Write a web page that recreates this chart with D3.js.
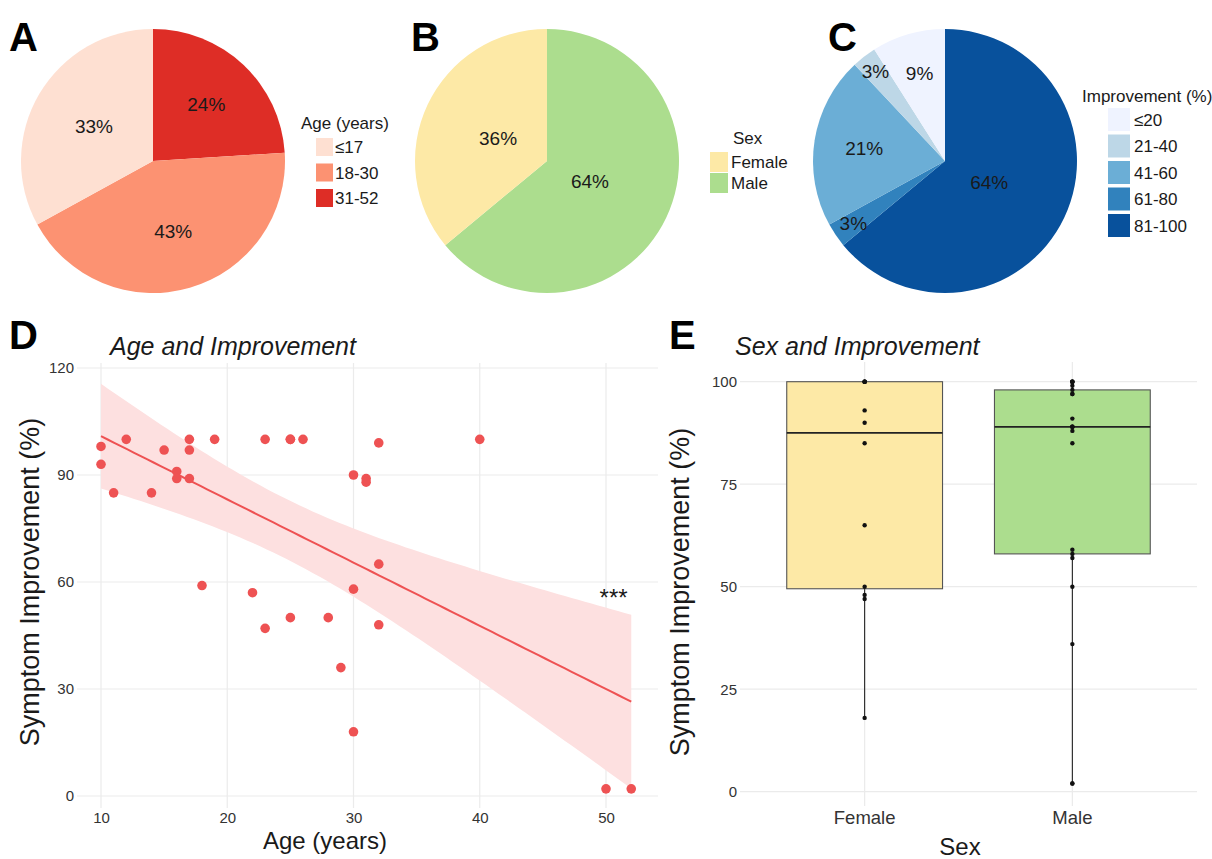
<!DOCTYPE html>
<html>
<head>
<meta charset="utf-8">
<script src="https://cdn.jsdelivr.net/npm/d3@7"></script>
<style>
  body { margin: 0; background: #fff; }
  svg { font-family: "Liberation Sans", Arial, sans-serif; }
</style>
</head>
<body>
<div class="canvas"></div>
<script>
// ---- data ----
const ageGroups = ['≤17', '18-30', '31-52'];
const agePct = [33, 43, 24];
const sexGroups = ['Female', 'Male'];
const sexPct = [36, 64];
const impGroups = ['≤20', '21-40', '41-60', '61-80', '81-100'];
const impPct = [9, 3, 21, 3, 64];

const ages = [10, 10, 11, 12, 14, 15, 16, 16, 17, 17, 17, 18, 19, 22, 23, 23, 25, 25, 25, 26, 28, 29, 30, 30, 30, 31, 31, 32, 32, 32, 40, 50, 52];
const improvement = [98, 93, 85, 100, 85, 97, 91, 89, 100, 97, 89, 59, 100, 57, 100, 47, 100, 50, 100, 100, 50, 36, 90, 58, 18, 89, 88, 99, 65, 48, 100, 2, 2];

const femaleImp = [18, 47, 48, 50, 65, 85, 90, 93, 100, 100, 100, 100];
const maleImp = [2, 2, 36, 50, 57, 58, 59, 85, 88, 89, 89, 89, 91, 97, 97, 98, 99, 100, 100, 100, 100];

const dTicks = [0, 30, 60, 90, 120];
const dXTicks = [10, 20, 30, 40, 50];
const eTicks = [0, 25, 50, 75, 100];

// colours / label radius (fraction of pie radius)
const ageColors = ['#fee0d2', '#fc9272', '#de2d26'];
const sexColors = ['#fde9a6', '#acdd8e'];
const impColors = ['#eff3ff', '#bdd7e7', '#6baed6', '#3182bd', '#08519c'];
const ageLabelR = [0.52, 0.55, 0.59];
const sexLabelR = [0.41, 0.36];
const impLabelR = [0.69, 0.86, 0.62, 0.84, 0.37];

const red = '#ee5253';

const svg = d3.select('.canvas').append('svg')
    .attr('width', 1212)
    .attr('height', 859);

// panel letters
const letters = [['A', 9, 51], ['B', 411, 51], ['C', 828, 51], ['D', 9, 349], ['E', 669, 349]];
svg.selectAll('text.letter')
    .data(letters)
    .enter().append('text')
    .attr('class', 'letter')
    .attr('x', d => d[1])
    .attr('y', d => d[2])
    .attr('font-size', 40)
    .attr('font-weight', 'bold')
    .text(d => d[0]);

// ---- pies ----
function drawPie(cx, cy, r, groups, pct, colors, labelR) {
    // clockwise from 12 o'clock, in reverse legend order (like ggplot)
    const items = groups.map((g, i) => ({ g, v: pct[i], c: colors[i], lr: labelR[i] })).reverse();
    const pie = d3.pie().sort(null).value(d => d.v);
    const arc = d3.arc().innerRadius(0).outerRadius(r);
    const g = svg.append('g').attr('transform', `translate(${cx},${cy})`);
    const arcs = pie(items);
    g.selectAll('path')
        .data(arcs)
        .enter().append('path')
        .attr('d', arc)
        .attr('fill', d => d.data.c);
    g.selectAll('text')
        .data(arcs)
        .enter().append('text')
        .attr('x', d => Math.sin((d.startAngle + d.endAngle) / 2) * r * d.data.lr)
        .attr('y', d => -Math.cos((d.startAngle + d.endAngle) / 2) * r * d.data.lr)
        .attr('text-anchor', 'middle')
        .attr('dy', '0.36em')
        .attr('font-size', 19)
        .attr('fill', '#1a1a1a')
        .text(d => d.data.v + '%');
}

function drawLegend(x, titleY, title, groups, colors, keyX, keyW, keyH, top, step, labelX) {
    const g = svg.append('g');
    g.append('text')
        .attr('x', x)
        .attr('y', titleY)
        .attr('font-size', 17)
        .attr('fill', '#1a1a1a')
        .text(title);
    groups.forEach((gr, i) => {
        g.append('rect')
            .attr('x', keyX)
            .attr('y', top + i * step)
            .attr('width', keyW)
            .attr('height', keyH)
            .attr('fill', colors[i]);
        g.append('text')
            .attr('x', labelX)
            .attr('y', top + i * step + keyH / 2)
            .attr('dy', '0.36em')
            .attr('font-size', 17)
            .attr('fill', '#1a1a1a')
            .text(gr);
    });
}

drawPie(153, 161, 132, ageGroups, agePct, ageColors, ageLabelR);
drawPie(547, 161, 132, sexGroups, sexPct, sexColors, sexLabelR);
drawPie(945, 161, 132, impGroups, impPct, impColors, impLabelR);

drawLegend(301, 129, 'Age (years)', ageGroups, ageColors, 316, 17, 18, 138, 25.5, 335);
drawLegend(733, 144, 'Sex', sexGroups, sexColors, 710, 18, 20, 152, 21, 731);
drawLegend(1082, 102, 'Improvement (%)', impGroups, impColors, 1108, 22, 23, 108, 26.5, 1134);

// ---- D: scatter with regression ----
const xD = d3.scaleLinear().domain([10, 50]).range([101, 606]);
const yD = d3.scaleLinear().domain([0, 120]).range([796, 368]);
const dLeft = 77, dRight = 658, dTop = 363, dBottom = 808;

const gD = svg.append('g');
gD.selectAll('line.hg')
    .data(dTicks)
    .enter().append('line')
    .attr('x1', dLeft).attr('x2', dRight)
    .attr('y1', d => yD(d)).attr('y2', d => yD(d))
    .attr('stroke', '#ebebeb').attr('stroke-width', 1.2);
gD.selectAll('line.vg')
    .data(dXTicks)
    .enter().append('line')
    .attr('x1', d => xD(d)).attr('x2', d => xD(d))
    .attr('y1', dTop).attr('y2', dBottom)
    .attr('stroke', '#ebebeb').attr('stroke-width', 1.2);

const yAxisD = gD.append('g')
    .attr('transform', `translate(${dLeft},0)`)
    .call(d3.axisLeft(yD).tickValues(dTicks).tickSize(0).tickPadding(3));
const xAxisD = gD.append('g')
    .attr('transform', `translate(0,${dBottom})`)
    .call(d3.axisBottom(xD).tickValues(dXTicks).tickSize(0).tickPadding(4));
[yAxisD, xAxisD].forEach(a => {
    a.select('.domain').remove();
    a.selectAll('text').attr('font-size', 15).attr('fill', '#333')
        .attr('font-family', '"Liberation Sans", Arial, sans-serif');
});

// linear fit and 95% confidence band
const n = ages.length;
const mx = d3.mean(ages), my = d3.mean(improvement);
let sxx = 0, sxy = 0;
ages.forEach((a, i) => { sxx += (a - mx) ** 2; sxy += (a - mx) * (improvement[i] - my); });
const slope = sxy / sxx;
const intercept = my - slope * mx;
let sse = 0;
ages.forEach((a, i) => { sse += (improvement[i] - (intercept + slope * a)) ** 2; });
const se = Math.sqrt(sse / (n - 2));
const tq = 2.0395; // t(0.975, df = 31)
const [xMin, xMax] = d3.extent(ages);
const fitX = d3.range(0, 81).map(i => xMin + (xMax - xMin) * i / 80);
const band = fitX.map(x => {
    const fit = intercept + slope * x;
    const h = tq * se * Math.sqrt(1 / n + (x - mx) ** 2 / sxx);
    return { x, fit, lo: fit - h, hi: fit + h };
});

gD.append('path')
    .datum(band)
    .attr('d', d3.area().x(d => xD(d.x)).y0(d => yD(d.lo)).y1(d => yD(d.hi)))
    .attr('fill', '#fde0e0');
gD.append('path')
    .datum(band)
    .attr('d', d3.line().x(d => xD(d.x)).y(d => yD(d.fit)))
    .attr('fill', 'none')
    .attr('stroke', red)
    .attr('stroke-width', 2);

gD.selectAll('circle')
    .data(ages.map((a, i) => [a, improvement[i]]))
    .enter().append('circle')
    .attr('cx', d => xD(d[0]))
    .attr('cy', d => yD(d[1]))
    .attr('r', 4.8)
    .attr('fill', red);

gD.append('text')
    .attr('x', xD(50.6))
    .attr('y', yD(53.3))
    .attr('text-anchor', 'middle')
    .attr('font-size', 24)
    .attr('fill', '#1a1a1a')
    .text('***');

gD.append('text')
    .attr('x', 110)
    .attr('y', 355)
    .attr('font-size', 25)
    .attr('font-style', 'italic')
    .attr('fill', '#1a1a1a')
    .text('Age and Improvement');
gD.append('text')
    .attr('transform', 'translate(39,582) rotate(-90)')
    .attr('text-anchor', 'middle')
    .attr('font-size', 27)
    .attr('fill', '#1a1a1a')
    .text('Symptom Improvement (%)');
gD.append('text')
    .attr('x', 325)
    .attr('y', 849)
    .attr('text-anchor', 'middle')
    .attr('font-size', 24)
    .attr('fill', '#1a1a1a')
    .text('Age (years)');

// ---- E: boxplots ----
const xE = d3.scaleBand().domain(sexGroups).range([740, 1197]).paddingInner(0.25).paddingOuter(0.225);
const yE = d3.scaleLinear().domain([0, 100]).range([791.7, 381.7]);
const eTop = 362, eBottom = 806;

const gE = svg.append('g');
gE.selectAll('line.hg')
    .data(eTicks)
    .enter().append('line')
    .attr('x1', 740).attr('x2', 1197)
    .attr('y1', d => yE(d)).attr('y2', d => yE(d))
    .attr('stroke', '#ebebeb').attr('stroke-width', 1.2);
gE.selectAll('line.vg')
    .data(sexGroups)
    .enter().append('line')
    .attr('x1', d => xE(d) + xE.bandwidth() / 2).attr('x2', d => xE(d) + xE.bandwidth() / 2)
    .attr('y1', eTop).attr('y2', eBottom)
    .attr('stroke', '#ebebeb').attr('stroke-width', 1.2);

const yAxisE = gE.append('g')
    .attr('transform', 'translate(740,0)')
    .call(d3.axisLeft(yE).tickValues(eTicks).tickSize(0).tickPadding(3));
const xAxisE = gE.append('g')
    .attr('transform', `translate(0,${eBottom})`)
    .call(d3.axisBottom(xE).tickSize(0).tickPadding(5));
yAxisE.select('.domain').remove();
xAxisE.select('.domain').remove();
yAxisE.selectAll('text').attr('font-size', 15).attr('fill', '#333')
    .attr('font-family', '"Liberation Sans", Arial, sans-serif');
xAxisE.selectAll('text').attr('font-size', 18.5).attr('fill', '#333')
    .attr('font-family', '"Liberation Sans", Arial, sans-serif');

const groupsE = [femaleImp, maleImp].map((vals, i) => {
    const s = vals.slice().sort(d3.ascending);
    const q1 = d3.quantile(s, 0.25), med = d3.quantile(s, 0.5), q3 = d3.quantile(s, 0.75);
    const iqr = q3 - q1;
    const lo = d3.min(s.filter(v => v >= q1 - 1.5 * iqr));
    const hi = d3.max(s.filter(v => v <= q3 + 1.5 * iqr));
    return { sex: sexGroups[i], vals: s, q1, med, q3, lo, hi, color: sexColors[i] };
});

groupsE.forEach(b => {
    const x0 = xE(b.sex), w = xE.bandwidth(), cx = x0 + w / 2;
    const g = gE.append('g');
    g.append('line')
        .attr('x1', cx).attr('x2', cx)
        .attr('y1', yE(b.q1)).attr('y2', yE(b.lo))
        .attr('stroke', '#222').attr('stroke-width', 1.1);
    g.append('line')
        .attr('x1', cx).attr('x2', cx)
        .attr('y1', yE(b.q3)).attr('y2', yE(b.hi))
        .attr('stroke', '#222').attr('stroke-width', 1.1);
    g.append('rect')
        .attr('x', x0).attr('width', w)
        .attr('y', yE(b.q3)).attr('height', yE(b.q1) - yE(b.q3))
        .attr('fill', b.color)
        .attr('stroke', '#555').attr('stroke-width', 1.1);
    g.append('line')
        .attr('x1', x0).attr('x2', x0 + w)
        .attr('y1', yE(b.med)).attr('y2', yE(b.med))
        .attr('stroke', '#222').attr('stroke-width', 1.8);
    g.selectAll('circle')
        .data(b.vals)
        .enter().append('circle')
        .attr('cx', cx)
        .attr('cy', d => yE(d))
        .attr('r', 2.2)
        .attr('fill', '#111');
});

gE.append('text')
    .attr('x', 735)
    .attr('y', 355)
    .attr('font-size', 25)
    .attr('font-style', 'italic')
    .attr('fill', '#1a1a1a')
    .text('Sex and Improvement');
gE.append('text')
    .attr('transform', 'translate(689,592) rotate(-90)')
    .attr('text-anchor', 'middle')
    .attr('font-size', 27)
    .attr('fill', '#1a1a1a')
    .text('Symptom Improvement (%)');
gE.append('text')
    .attr('x', 960)
    .attr('y', 855)
    .attr('text-anchor', 'middle')
    .attr('font-size', 24)
    .attr('fill', '#1a1a1a')
    .text('Sex');
</script>
</body>
</html>
